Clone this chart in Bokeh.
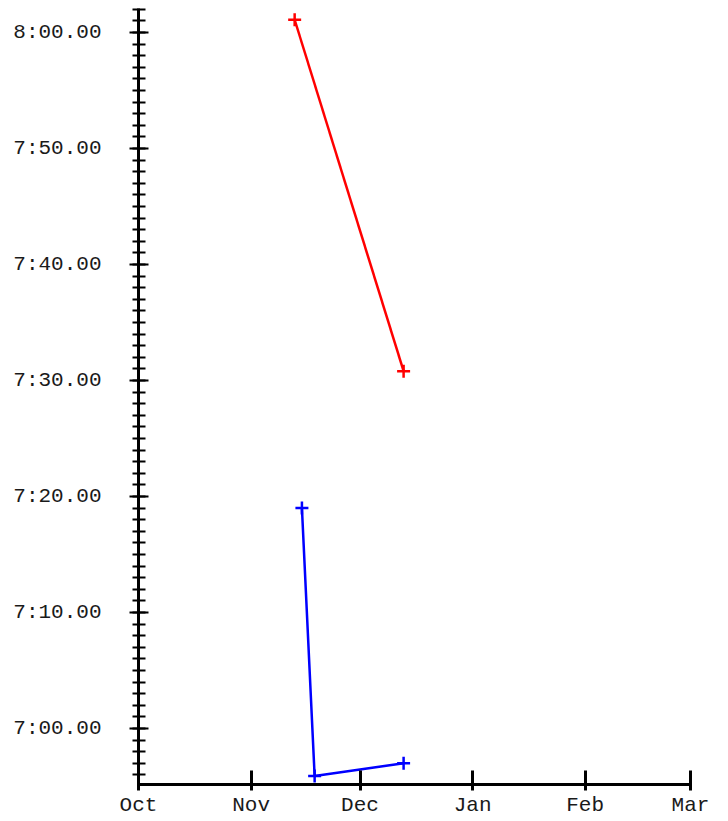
from datetime import datetime
from bokeh.plotting import figure
from bokeh.models import FixedTicker, CustomJSTickFormatter, DatetimeTickFormatter, Range1d
from bokeh.embed import file_html
from bokeh.resources import INLINE

# Data (times in seconds, e.g. 7:30.80 -> 450.8)
red_dates = [datetime(2023, 11, 13), datetime(2023, 12, 13)]
red_times = [481.1, 450.8]
blue_dates = [datetime(2023, 11, 15), datetime(2023, 11, 18, 12), datetime(2023, 12, 13)]
blue_times = [439.0, 415.9, 417.0]

month_ticks = [datetime(2023, 10, 1), datetime(2023, 11, 1), datetime(2023, 12, 1),
               datetime(2024, 1, 1), datetime(2024, 2, 1), datetime(2024, 3, 1)]
y_major = [420, 430, 440, 450, 460, 470, 480]
y_minor = list(range(415, 483))

def ms(d):
    return (d - datetime(1970, 1, 1)).total_seconds() * 1000.0

FONT = "Liberation Mono"

p = figure(width=728, height=821, x_axis_type="datetime",
           output_backend="svg", toolbar_location=None,
           min_border_left=138, min_border_right=38, min_border_top=8, min_border_bottom=37,
           x_range=Range1d(ms(month_ticks[0]), ms(month_ticks[-1])),
           y_range=Range1d(415.17, 482.07))
p.outline_line_color = None
p.xgrid.visible = False
p.ygrid.visible = False
p.background_fill_color = "white"
p.border_fill_color = "white"

p.line(red_dates, red_times, line_color="#ff0000", line_width=2.5)
p.scatter(red_dates, red_times, marker="cross", size=13, line_color="#ff0000", line_width=2.5)
p.line(blue_dates, blue_times, line_color="#0000ff", line_width=2.5)
p.scatter(blue_dates, blue_times, marker="cross", size=13, line_color="#0000ff", line_width=2.5)

# y axis
ya = p.yaxis[0]
ya.ticker = FixedTicker(ticks=y_major, minor_ticks=y_minor)
ya.formatter = CustomJSTickFormatter(code="""
const m = Math.floor(tick / 60);
const s = tick - m * 60;
return m + ':' + (s < 10 ? '0' : '') + s.toFixed(2);
""")
ya.axis_line_width = 3
ya.axis_line_color = "black"
ya.major_tick_in = 10
ya.major_tick_out = 9
ya.minor_tick_in = 7
ya.minor_tick_out = 6
ya.major_tick_line_width = 2
ya.minor_tick_line_width = 2
ya.major_label_standoff = 28
ya.major_label_text_font = FONT
ya.major_label_text_font_size = "21px"
ya.major_label_text_color = "#1a1a1a"

# x axis
xa = p.xaxis[0]
xa.ticker = FixedTicker(ticks=[ms(d) for d in month_ticks])
xa.formatter = DatetimeTickFormatter(days="%b", months="%b", years="%b")
xa.axis_line_width = 3
xa.axis_line_color = "black"
xa.major_tick_in = 14
xa.major_tick_out = 6
xa.major_tick_line_width = 3
xa.minor_tick_line_color = None
xa.major_label_standoff = 3
xa.major_label_text_font = FONT
xa.major_label_text_font_size = "21px"
xa.major_label_text_color = "#1a1a1a"

open("out.html", "w").write(file_html(p, INLINE))
